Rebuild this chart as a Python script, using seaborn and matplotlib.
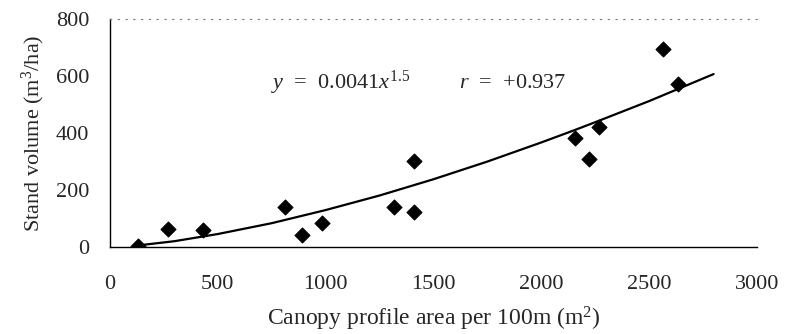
import numpy as np
import pandas as pd
import matplotlib
matplotlib.use("Agg")
import matplotlib.pyplot as plt
import seaborn as sns

# observed plots: canopy profile area per 100 m (m2) vs stand volume (m3/ha)
area = [130, 270, 433, 814, 893, 986, 1316, 1409, 1409, 2158, 2223, 2270, 2567, 2633]
volume = [5, 65, 60, 140, 42, 84, 140, 302, 123, 383, 309, 421, 695, 572]

# fitted curve y = 0.0041 x^1.5
fit_x = [130, 300, 500, 750, 1000, 1250, 1500, 1750, 2000, 2150, 2250, 2500, 2800]
fit_y = [6, 21, 46, 84, 130, 181, 238, 300, 367, 409, 438, 512, 607]

xticks = [0, 500, 1000, 1500, 2000, 2500, 3000]
yticks = [0, 200, 400, 600, 800]

sns.set_style("white")
plt.rcParams["font.family"] = ["Liberation Serif", "DejaVu Serif"]
plt.rcParams["mathtext.fontset"] = "custom"
plt.rcParams["mathtext.rm"] = "Liberation Serif"
plt.rcParams["mathtext.it"] = "Liberation Serif:italic"

pts = pd.DataFrame({"area": area, "volume": volume})
fit = pd.DataFrame({"area": fit_x, "volume": fit_y})

fig = plt.figure(figsize=(7.85, 3.34), dpi=100)
ax = fig.add_axes([0.140, 0.260, 0.824, 0.683])

sns.lineplot(data=fit, x="area", y="volume", ax=ax, color="black", lw=1.6)
sns.scatterplot(data=pts, x="area", y="volume", ax=ax, marker="D", s=60,
                color="black", edgecolor="black", zorder=3)

ax.set_xlim(0, 3000)
ax.set_ylim(0, 800)
ax.set_xticks(xticks)
ax.set_yticks(yticks)
ax.tick_params(direction="in", length=3, width=0.8, labelsize=16)
ax.tick_params(axis="x", pad=20)
ax.tick_params(axis="y", pad=15)

for side in ["left", "bottom"]:
    ax.spines[side].set_color("black")
    ax.spines[side].set_linewidth(1.0)
ax.spines["top"].set_color("#777777")
ax.spines["top"].set_linestyle((0, (1, 6)))
ax.spines["top"].set_linewidth(0.8)
ax.spines["right"].set_visible(False)

ax.set_xlabel("Canopy profile area per 100m (m$^2$)", fontsize=17, labelpad=8)
ax.set_ylabel("Stand volume (m$^3$/ha)", fontsize=16, labelpad=6)

ax.text(745, 575, r"$y$  =  0.0041$x^{1.5}$", fontsize=16, va="center")
ax.text(1620, 575, r"$r$  =  +0.937", fontsize=16, va="center")

fig.savefig("out.png", dpi=100)
